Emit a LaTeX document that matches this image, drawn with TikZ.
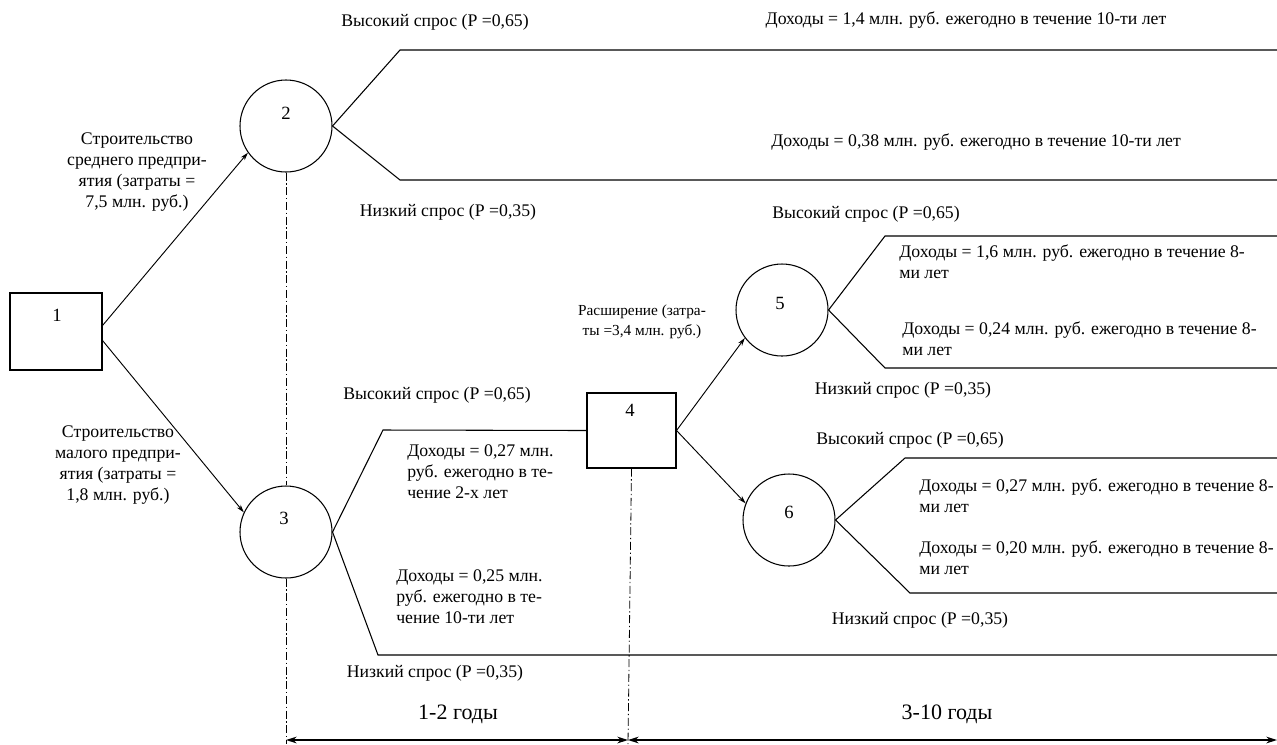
\documentclass[tikz,border=0pt]{standalone}
\usepackage{fontspec}
\setmainfont{Liberation Serif}
\usetikzlibrary{calc,arrows.meta}
\begin{document}
\begin{tikzpicture}[x=0.75pt,y=-0.75pt,
  txt/.style={font=\fontsize{13.3}{15.75}\selectfont, inner sep=0pt},
  ml/.style={txt, align=left, anchor=north west},
  mc/.style={txt, align=center},
  small/.style={font=\fontsize{11.5}{15}\selectfont, inner sep=0pt, align=center},
  big/.style={font=\fontsize{16.5}{19}\selectfont, inner sep=0pt},
  numtxt/.style={font=\fontsize{14}{16}\selectfont, inner sep=0pt},
  decbox/.style={draw, line width=0.8pt, inner sep=0pt},
  chance/.style={draw, circle, line width=0.8pt, minimum size=69pt, inner sep=0pt},
  branch/.style={line width=0.8pt},
  conn/.style={line width=0.7pt, -{Stealth[length=6pt,width=3.6pt]}},
  guide/.style={line width=0.6pt, dash pattern=on 6pt off 2pt on 1pt off 2pt},
  span/.style={line width=1.1pt, {Stealth[length=8pt,width=5pt]}-{Stealth[length=8pt,width=5pt]}}]
\useasboundingbox (0,0) rectangle (1277,744);

% decision and chance nodes
\node[decbox, minimum width=69pt, minimum height=57.75pt] (n1) at (56,331.5) {};
\node[numtxt] (t1) at (57,315) {1};
\node[chance] (n2) at (286,126) {};
\node[numtxt] (t2) at (286,113) {2};
\node[chance] (n3) at (286,532) {};
\node[numtxt] (t3) at (284,518) {3};
\node[decbox, minimum width=66.75pt, minimum height=56.25pt] (n4) at (631.5,430.5) {};
\node[numtxt] (t4) at (630,410) {4};
\node[chance] (n5) at (782,310) {};
\node[numtxt] (t5) at (780,303) {5};
\node[chance] (n6) at (789,520) {};
\node[numtxt] (t6) at (789,512) {6};

% helper coordinates
\coordinate (s12) at ($(n1.east)+(0,-6)$);
\coordinate (s13) at ($(n1.east)+(0,9)$);
\coordinate (a2u) at (400,50);  \coordinate (e2u) at (1277,50);
\coordinate (a2d) at (400,180); \coordinate (e2d) at (1277,180);
\coordinate (a3u) at (383,430);
\coordinate (a3d) at (378,655); \coordinate (e3d) at (1277,655);
\coordinate (a5u) at (885,236); \coordinate (e5u) at (1277,236);
\coordinate (a5d) at (885,368); \coordinate (e5d) at (1277,368);
\coordinate (a6u) at (905,458); \coordinate (e6u) at (1277,458);
\coordinate (a6d) at (910,593); \coordinate (e6d) at (1277,593);
\coordinate (g2) at (286,744);
\coordinate (g4) at (628,744);
\coordinate (b1) at (286,740);
\coordinate (b2) at (628,740);
\coordinate (b3) at (1277,740);

% connectors with arrows
\draw[conn] (s12) -- (n2.215);
\draw[conn] (s13) -- (n3.155);
\draw[conn] (n4.east) -- (n5.217);
\draw[conn] (n4.east) -- (n6.159);

% branches
\draw[branch] (n2.east) -- (a2u) -- (e2u);
\draw[branch] (n2.east) -- (a2d) -- (e2d);
\draw[branch] (n3.east) -- (a3u) -- (n4.west);
\draw[branch] (n3.east) -- (a3d) -- (e3d);
\draw[branch] (n5.east) -- (a5u) -- (e5u);
\draw[branch] (n5.east) -- (a5d) -- (e5d);
\draw[branch] (n6.east) -- (a6u) -- (e6u);
\draw[branch] (n6.east) -- (a6d) -- (e6d);

% guide lines
\draw[guide] (n2.south) -- (n3.north);
\draw[guide] (n3.south) -- (g2);
\draw[guide] (n4.south) -- (g4);

% time spans
\draw[span] (b1) -- (b2);
\draw[span] (b2) -- (b3);

% labels
\node[txt] (l1) at (435,22) {Высокий спрос (Р =0,65)};
\node[txt] (l2) at (966,20) {Доходы = 1,4 млн. руб. ежегодно в течение 10-ти лет};
\node[txt] (l3) at (976,142) {Доходы = 0,38 млн. руб. ежегодно в течение 10-ти лет};
\node[txt] (l4) at (448,212) {Низкий спрос (Р =0,35)};
\node[mc] (l5) at (137,172) {Строительство\\среднего предпри-\\ятия (затраты =\\7,5 млн. руб.)};
\node[txt] (l6) at (866,214) {Высокий спрос (Р =0,65)};
\node[ml] (l7) at (899,245) {Доходы = 1,6 млн. руб. ежегодно в течение 8-\\ми лет};
\node[ml] (l8) at (902,322) {Доходы = 0,24 млн. руб. ежегодно в течение 8-\\ми лет};
\node[small] (l9) at (642,322) {Расширение (затра-\\ты =3,4 млн. руб.)};
\node[txt] (l10) at (903,390) {Низкий спрос (Р =0,35)};
\node[txt] (l11) at (437,395) {Высокий спрос (Р =0,65)};
\node[mc] (l12) at (118,465) {Строительство\\малого предпри-\\ятия (затраты =\\1,8 млн. руб.)};
\node[ml] (l13) at (407,444) {Доходы = 0,27 млн.\\руб. ежегодно в те-\\чение 2-х лет};
\node[txt] (l14) at (910,440) {Высокий спрос (Р =0,65)};
\node[ml] (l15) at (919,479) {Доходы = 0,27 млн. руб. ежегодно в течение 8-\\ми лет};
\node[ml] (l16) at (919,541) {Доходы = 0,20 млн. руб. ежегодно в течение 8-\\ми лет};
\node[ml] (l17) at (396,569) {Доходы = 0,25 млн.\\руб. ежегодно в те-\\чение 10-ти лет};
\node[txt] (l18) at (920,620) {Низкий спрос (Р =0,35)};
\node[txt] (l19) at (435,673) {Низкий спрос (Р =0,35)};
\node[big] (l20) at (458,714) {1-2 годы};
\node[big] (l21) at (947,714) {3-10 годы};
\end{tikzpicture}
\end{document}
